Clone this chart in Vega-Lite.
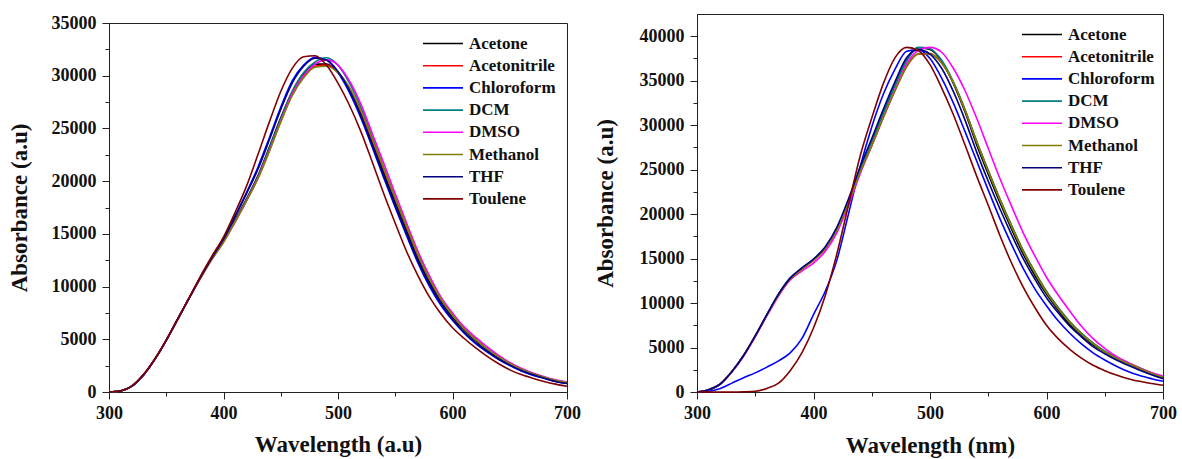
{
  "$schema": "https://vega.github.io/schema/vega-lite/v6.json",
  "background": "white",
  "padding": {"left": 7, "top": 13, "right": 5, "bottom": 5},
  "config": {
    "view": {"stroke": "#222", "strokeWidth": 1},
    "font": "Liberation Serif",
    "axis": {"labelFont": "Liberation Serif", "labelFontWeight": "bold", "labelFontSize": 18, "labelColor": "#111", "titleFont": "Liberation Serif", "titleFontWeight": "bold", "titleFontSize": 23, "titleColor": "#111", "domainColor": "#222", "tickColor": "#222", "grid": false, "labelFlush": false, "labelOverlap": false},
    "line": {"strokeWidth": 1.6, "interpolate": "monotone"}
  },
  "resolve": {"legend": {"color": "independent"}},
  "spacing": 12,
  "datasets": {
    "L": [
      {"w":300,"Acetone":0,"Acetonitrile":0,"Chloroform":0,"DCM":0,"DMSO":0,"Methanol":0,"THF":0,"Toulene":0},
      {"w":310,"Acetone":100,"Acetonitrile":100,"Chloroform":100,"DCM":100,"DMSO":100,"Methanol":100,"THF":100,"Toulene":100},
      {"w":320,"Acetone":550,"Acetonitrile":550,"Chloroform":550,"DCM":550,"DMSO":550,"Methanol":550,"THF":550,"Toulene":580},
      {"w":330,"Acetone":1600,"Acetonitrile":1600,"Chloroform":1600,"DCM":1600,"DMSO":1600,"Methanol":1600,"THF":1600,"Toulene":1650},
      {"w":340,"Acetone":3100,"Acetonitrile":3100,"Chloroform":3100,"DCM":3100,"DMSO":3100,"Methanol":3100,"THF":3100,"Toulene":3150},
      {"w":350,"Acetone":4900,"Acetonitrile":4900,"Chloroform":4900,"DCM":4900,"DMSO":4900,"Methanol":4900,"THF":4900,"Toulene":4950},
      {"w":360,"Acetone":6900,"Acetonitrile":6900,"Chloroform":6900,"DCM":6900,"DMSO":6900,"Methanol":6900,"THF":6900,"Toulene":6950},
      {"w":370,"Acetone":8900,"Acetonitrile":8900,"Chloroform":8900,"DCM":8900,"DMSO":8900,"Methanol":8900,"THF":8900,"Toulene":8950},
      {"w":380,"Acetone":10900,"Acetonitrile":10850,"Chloroform":10950,"DCM":10900,"DMSO":10800,"Methanol":10800,"THF":10900,"Toulene":11000},
      {"w":390,"Acetone":12700,"Acetonitrile":12650,"Chloroform":12800,"DCM":12700,"DMSO":12600,"Methanol":12600,"THF":12750,"Toulene":12900},
      {"w":400,"Acetone":14400,"Acetonitrile":14300,"Chloroform":14600,"DCM":14400,"DMSO":14200,"Methanol":14200,"THF":14500,"Toulene":14700},
      {"w":410,"Acetone":16300,"Acetonitrile":16200,"Chloroform":16700,"DCM":16200,"DMSO":16100,"Methanol":16100,"THF":16600,"Toulene":17000},
      {"w":420,"Acetone":18300,"Acetonitrile":18200,"Chloroform":18900,"DCM":18200,"DMSO":18100,"Methanol":18100,"THF":18800,"Toulene":19500},
      {"w":430,"Acetone":20500,"Acetonitrile":20300,"Chloroform":21300,"DCM":20400,"DMSO":20300,"Methanol":20200,"THF":21100,"Toulene":22500},
      {"w":440,"Acetone":23200,"Acetonitrile":22900,"Chloroform":24100,"DCM":23100,"DMSO":22900,"Methanol":22800,"THF":23900,"Toulene":25600},
      {"w":450,"Acetone":26000,"Acetonitrile":25700,"Chloroform":27000,"DCM":25900,"DMSO":25700,"Methanol":25600,"THF":26800,"Toulene":28500},
      {"w":460,"Acetone":28500,"Acetonitrile":28200,"Chloroform":29500,"DCM":28500,"DMSO":28300,"Methanol":28100,"THF":29300,"Toulene":30700},
      {"w":470,"Acetone":30200,"Acetonitrile":29900,"Chloroform":31000,"DCM":30300,"DMSO":30000,"Methanol":29800,"THF":30900,"Toulene":31800},
      {"w":480,"Acetone":31100,"Acetonitrile":30900,"Chloroform":31750,"DCM":31300,"DMSO":31100,"Methanol":30800,"THF":31650,"Toulene":31900},
      {"w":490,"Acetone":31100,"Acetonitrile":31000,"Chloroform":31500,"DCM":31700,"DMSO":31500,"Methanol":30900,"THF":31500,"Toulene":31000},
      {"w":500,"Acetone":30300,"Acetonitrile":30300,"Chloroform":30300,"DCM":31000,"DMSO":31000,"Methanol":30300,"THF":30400,"Toulene":29300},
      {"w":510,"Acetone":28700,"Acetonitrile":28800,"Chloroform":28400,"DCM":29300,"DMSO":29500,"Methanol":28900,"THF":28600,"Toulene":27200},
      {"w":520,"Acetone":26400,"Acetonitrile":26600,"Chloroform":26000,"DCM":27000,"DMSO":27300,"Methanol":26700,"THF":26200,"Toulene":24700},
      {"w":530,"Acetone":23600,"Acetonitrile":23900,"Chloroform":23200,"DCM":24200,"DMSO":24500,"Methanol":24000,"THF":23400,"Toulene":21800},
      {"w":540,"Acetone":20800,"Acetonitrile":21100,"Chloroform":20300,"DCM":21300,"DMSO":21700,"Methanol":21200,"THF":20500,"Toulene":18800},
      {"w":550,"Acetone":18000,"Acetonitrile":18300,"Chloroform":17500,"DCM":18400,"DMSO":18800,"Methanol":18400,"THF":17700,"Toulene":16000},
      {"w":560,"Acetone":15300,"Acetonitrile":15600,"Chloroform":14800,"DCM":15700,"DMSO":16000,"Methanol":15700,"THF":15000,"Toulene":13300},
      {"w":570,"Acetone":12600,"Acetonitrile":12900,"Chloroform":12200,"DCM":13000,"DMSO":13300,"Methanol":13000,"THF":12400,"Toulene":11000},
      {"w":580,"Acetone":10400,"Acetonitrile":10700,"Chloroform":10000,"DCM":10700,"DMSO":11000,"Methanol":10700,"THF":10200,"Toulene":9000},
      {"w":590,"Acetone":8600,"Acetonitrile":8800,"Chloroform":8200,"DCM":8800,"DMSO":9000,"Methanol":8800,"THF":8400,"Toulene":7400},
      {"w":600,"Acetone":7100,"Acetonitrile":7300,"Chloroform":6800,"DCM":7300,"DMSO":7500,"Methanol":7300,"THF":6900,"Toulene":6100},
      {"w":610,"Acetone":5900,"Acetonitrile":6000,"Chloroform":5600,"DCM":6000,"DMSO":6200,"Methanol":6000,"THF":5700,"Toulene":5100},
      {"w":620,"Acetone":4900,"Acetonitrile":5000,"Chloroform":4600,"DCM":5000,"DMSO":5200,"Methanol":5000,"THF":4700,"Toulene":4200},
      {"w":630,"Acetone":4000,"Acetonitrile":4100,"Chloroform":3800,"DCM":4100,"DMSO":4300,"Methanol":4100,"THF":3900,"Toulene":3400},
      {"w":640,"Acetone":3250,"Acetonitrile":3350,"Chloroform":3100,"DCM":3350,"DMSO":3500,"Methanol":3350,"THF":3150,"Toulene":2700},
      {"w":650,"Acetone":2600,"Acetonitrile":2700,"Chloroform":2500,"DCM":2700,"DMSO":2800,"Methanol":2700,"THF":2550,"Toulene":2100},
      {"w":660,"Acetone":2100,"Acetonitrile":2150,"Chloroform":2000,"DCM":2150,"DMSO":2250,"Methanol":2150,"THF":2050,"Toulene":1650},
      {"w":670,"Acetone":1700,"Acetonitrile":1750,"Chloroform":1600,"DCM":1750,"DMSO":1800,"Methanol":1750,"THF":1650,"Toulene":1300},
      {"w":680,"Acetone":1350,"Acetonitrile":1400,"Chloroform":1300,"DCM":1400,"DMSO":1450,"Methanol":1400,"THF":1300,"Toulene":1000},
      {"w":690,"Acetone":1050,"Acetonitrile":1100,"Chloroform":1000,"DCM":1100,"DMSO":1150,"Methanol":1100,"THF":1000,"Toulene":750},
      {"w":700,"Acetone":850,"Acetonitrile":900,"Chloroform":800,"DCM":900,"DMSO":950,"Methanol":900,"THF":800,"Toulene":550}
    ],
    "R": [
      {"w":300,"Acetone":0,"Acetonitrile":0,"Chloroform":0,"DCM":0,"DMSO":0,"Methanol":0,"THF":0,"Toulene":0},
      {"w":310,"Acetone":250,"Acetonitrile":250,"Chloroform":80,"DCM":250,"DMSO":250,"Methanol":250,"THF":250,"Toulene":0},
      {"w":320,"Acetone":900,"Acetonitrile":900,"Chloroform":400,"DCM":900,"DMSO":900,"Methanol":900,"THF":900,"Toulene":0},
      {"w":330,"Acetone":2300,"Acetonitrile":2300,"Chloroform":1000,"DCM":2300,"DMSO":2250,"Methanol":2300,"THF":2300,"Toulene":0},
      {"w":340,"Acetone":4100,"Acetonitrile":4100,"Chloroform":1600,"DCM":4100,"DMSO":4000,"Methanol":4100,"THF":4100,"Toulene":20},
      {"w":350,"Acetone":6300,"Acetonitrile":6300,"Chloroform":2150,"DCM":6300,"DMSO":6200,"Methanol":6300,"THF":6300,"Toulene":80},
      {"w":360,"Acetone":8700,"Acetonitrile":8650,"Chloroform":2800,"DCM":8700,"DMSO":8550,"Methanol":8650,"THF":8700,"Toulene":400},
      {"w":370,"Acetone":11000,"Acetonitrile":10900,"Chloroform":3500,"DCM":11000,"DMSO":10800,"Methanol":10900,"THF":11000,"Toulene":1000},
      {"w":380,"Acetone":12800,"Acetonitrile":12700,"Chloroform":4400,"DCM":12800,"DMSO":12600,"Methanol":12700,"THF":12800,"Toulene":2400},
      {"w":390,"Acetone":13900,"Acetonitrile":13800,"Chloroform":6000,"DCM":13900,"DMSO":13600,"Methanol":13800,"THF":13950,"Toulene":4400},
      {"w":400,"Acetone":14900,"Acetonitrile":14800,"Chloroform":8700,"DCM":14900,"DMSO":14500,"Methanol":14800,"THF":14950,"Toulene":7200},
      {"w":410,"Acetone":16200,"Acetonitrile":16100,"Chloroform":11300,"DCM":16200,"DMSO":15800,"Methanol":16100,"THF":16300,"Toulene":10800},
      {"w":420,"Acetone":18300,"Acetonitrile":18200,"Chloroform":14800,"DCM":18300,"DMSO":17900,"Methanol":18200,"THF":18500,"Toulene":15500},
      {"w":430,"Acetone":21500,"Acetonitrile":21300,"Chloroform":20000,"DCM":21500,"DMSO":21000,"Methanol":21300,"THF":21700,"Toulene":21000},
      {"w":440,"Acetone":25000,"Acetonitrile":24700,"Chloroform":25300,"DCM":25000,"DMSO":24500,"Methanol":24700,"THF":25300,"Toulene":26500},
      {"w":450,"Acetone":28200,"Acetonitrile":27700,"Chloroform":29800,"DCM":28200,"DMSO":27700,"Methanol":27700,"THF":28500,"Toulene":30800},
      {"w":460,"Acetone":31400,"Acetonitrile":30900,"Chloroform":33500,"DCM":31400,"DMSO":30900,"Methanol":30900,"THF":31800,"Toulene":34700},
      {"w":470,"Acetone":34500,"Acetonitrile":33900,"Chloroform":36300,"DCM":34500,"DMSO":34000,"Methanol":33900,"THF":34900,"Toulene":37600},
      {"w":480,"Acetone":37300,"Acetonitrile":36600,"Chloroform":38300,"DCM":37300,"DMSO":36900,"Methanol":36600,"THF":37600,"Toulene":38750},
      {"w":490,"Acetone":38700,"Acetonitrile":38000,"Chloroform":38500,"DCM":38750,"DMSO":38400,"Methanol":38000,"THF":38500,"Toulene":38400},
      {"w":500,"Acetone":38500,"Acetonitrile":38050,"Chloroform":37500,"DCM":38600,"DMSO":38750,"Methanol":38000,"THF":38000,"Toulene":36800},
      {"w":510,"Acetone":37200,"Acetonitrile":37000,"Chloroform":35300,"DCM":37300,"DMSO":38200,"Methanol":37000,"THF":36400,"Toulene":34200},
      {"w":520,"Acetone":34700,"Acetonitrile":34800,"Chloroform":32500,"DCM":34900,"DMSO":36400,"Methanol":34800,"THF":33800,"Toulene":31200},
      {"w":530,"Acetone":31500,"Acetonitrile":31700,"Chloroform":29300,"DCM":31800,"DMSO":33900,"Methanol":31700,"THF":30600,"Toulene":27800},
      {"w":540,"Acetone":27800,"Acetonitrile":28200,"Chloroform":26000,"DCM":28200,"DMSO":30800,"Methanol":28100,"THF":27000,"Toulene":24300},
      {"w":550,"Acetone":24500,"Acetonitrile":24900,"Chloroform":22700,"DCM":24900,"DMSO":27400,"Methanol":24800,"THF":23700,"Toulene":21000},
      {"w":560,"Acetone":21300,"Acetonitrile":21700,"Chloroform":19500,"DCM":21700,"DMSO":24000,"Methanol":21600,"THF":20600,"Toulene":17600},
      {"w":570,"Acetone":18300,"Acetonitrile":18700,"Chloroform":16600,"DCM":18700,"DMSO":20900,"Methanol":18600,"THF":17700,"Toulene":14500},
      {"w":580,"Acetone":15500,"Acetonitrile":15900,"Chloroform":13900,"DCM":15900,"DMSO":17900,"Methanol":15800,"THF":15000,"Toulene":11800},
      {"w":590,"Acetone":13100,"Acetonitrile":13500,"Chloroform":11600,"DCM":13500,"DMSO":15300,"Methanol":13400,"THF":12700,"Toulene":9500},
      {"w":600,"Acetone":11000,"Acetonitrile":11300,"Chloroform":9700,"DCM":11300,"DMSO":12900,"Methanol":11200,"THF":10600,"Toulene":7500},
      {"w":610,"Acetone":9200,"Acetonitrile":9500,"Chloroform":8000,"DCM":9500,"DMSO":10900,"Methanol":9400,"THF":8900,"Toulene":6000},
      {"w":620,"Acetone":7600,"Acetonitrile":7900,"Chloroform":6600,"DCM":7900,"DMSO":9100,"Methanol":7800,"THF":7400,"Toulene":4800},
      {"w":630,"Acetone":6400,"Acetonitrile":6600,"Chloroform":5400,"DCM":6600,"DMSO":7400,"Methanol":6500,"THF":6200,"Toulene":3800},
      {"w":640,"Acetone":5300,"Acetonitrile":5500,"Chloroform":4400,"DCM":5500,"DMSO":6000,"Methanol":5400,"THF":5100,"Toulene":3000},
      {"w":650,"Acetone":4500,"Acetonitrile":4600,"Chloroform":3600,"DCM":4600,"DMSO":4900,"Methanol":4500,"THF":4300,"Toulene":2400},
      {"w":660,"Acetone":3800,"Acetonitrile":3900,"Chloroform":2900,"DCM":3900,"DMSO":4000,"Methanol":3800,"THF":3600,"Toulene":1900},
      {"w":670,"Acetone":3200,"Acetonitrile":3300,"Chloroform":2300,"DCM":3300,"DMSO":3300,"Methanol":3200,"THF":3000,"Toulene":1500},
      {"w":680,"Acetone":2600,"Acetonitrile":2700,"Chloroform":1850,"DCM":2700,"DMSO":2700,"Methanol":2650,"THF":2450,"Toulene":1200},
      {"w":690,"Acetone":2050,"Acetonitrile":2150,"Chloroform":1500,"DCM":2150,"DMSO":2200,"Methanol":2100,"THF":1950,"Toulene":950},
      {"w":700,"Acetone":1600,"Acetonitrile":1700,"Chloroform":1200,"DCM":1700,"DMSO":1800,"Methanol":1650,"THF":1500,"Toulene":750}
    ]
  },
  "hconcat": [
    {
      "spacing": -2,
      "vconcat": [
        {
          "width": 458,
          "height": 1,
          "view": {"stroke": null, "fill": null},
          "data": {"values": [{"a": 1}]},
          "mark": {"type": "point", "size": 0, "opacity": 0},
          "encoding": {}
        },
        {
          "width": 458,
          "height": 369,
          "data": {"name": "L"},
          "transform": [{"fold": ["Acetone","Acetonitrile","Chloroform","DCM","DMSO","Methanol","THF","Toulene"], "as": ["Solvent","Abs"]}],
          "mark": {"type": "line"},
          "encoding": {
            "x": {"field": "w", "type": "quantitative", "scale": {"domain": [300,700], "nice": false},
              "axis": {"title": "Wavelength (a.u)", "values": [300,350,400,450,500,550,600,650,700], "labelExpr": "datum.value % 100 === 0 ? datum.label : ''", "tickSize": {"condition": {"test": "datum.value % 100 === 0", "value": 7}, "value": 4}, "labelPadding": 5, "titlePadding": 11}},
            "y": {"field": "Abs", "type": "quantitative", "scale": {"domain": [0,35000], "nice": false},
              "axis": {"title": "Absorbance (a.u)", "format": "d", "values": [0,2500,5000,7500,10000,12500,15000,17500,20000,22500,25000,27500,30000,32500,35000], "labelExpr": "datum.value % 5000 === 0 ? datum.label : ''", "tickSize": {"condition": {"test": "datum.value % 5000 === 0", "value": 7}, "value": 4}, "labelPadding": 6, "titlePadding": 20}},
            "color": {"field": "Solvent", "type": "nominal",
              "scale": {"domain": ["Acetone","Acetonitrile","Chloroform","DCM","DMSO","Methanol","THF","Toulene"], "range": ["#000000","#ff0000","#0000ff","#008080","#ff00ff","#808000","#000080","#800000"]},
              "legend": {"orient": "none", "legendX": 313, "legendY": 21, "title": null, "symbolType": "stroke", "symbolSize": 1600, "symbolStrokeWidth": 2, "clipHeight": 17, "labelFontSize": 17, "labelFont": "Liberation Serif", "labelFontWeight": "bold", "labelColor": "#111", "labelOffset": 5, "rowPadding": 4.2, "padding": 0}}
          }
        }
      ]
    },
    {
      "width": 466,
      "height": 378,
      "data": {"name": "R"},
      "transform": [{"fold": ["Acetone","Acetonitrile","Chloroform","DCM","DMSO","Methanol","THF","Toulene"], "as": ["Solvent","Abs"]}],
      "mark": {"type": "line"},
      "encoding": {
        "x": {"field": "w", "type": "quantitative", "scale": {"domain": [300,700], "nice": false},
          "axis": {"title": "Wavelength (nm)", "values": [300,350,400,450,500,550,600,650,700], "labelExpr": "datum.value % 100 === 0 ? datum.label : ''", "tickSize": {"condition": {"test": "datum.value % 100 === 0", "value": 7}, "value": 4}, "labelPadding": 5, "titlePadding": 12}},
        "y": {"field": "Abs", "type": "quantitative", "scale": {"domain": [0,42500], "nice": false},
          "axis": {"title": "Absorbance (a.u)", "format": "d", "values": [0,2500,5000,7500,10000,12500,15000,17500,20000,22500,25000,27500,30000,32500,35000,37500,40000], "labelExpr": "datum.value % 5000 === 0 ? datum.label : ''", "tickSize": {"condition": {"test": "datum.value % 5000 === 0", "value": 7}, "value": 4}, "labelPadding": 6, "titlePadding": 22}},
        "color": {"field": "Solvent", "type": "nominal",
          "scale": {"domain": ["Acetone","Acetonitrile","Chloroform","DCM","DMSO","Methanol","THF","Toulene"], "range": ["#000000","#ff0000","#0000ff","#008080","#ff00ff","#808000","#000080","#800000"]},
          "legend": {"orient": "none", "legendX": 324, "legendY": 12, "title": null, "symbolType": "stroke", "symbolSize": 1600, "symbolStrokeWidth": 2, "clipHeight": 17, "labelFontSize": 17, "labelFont": "Liberation Serif", "labelFontWeight": "bold", "labelColor": "#111", "labelOffset": 5, "rowPadding": 4.2, "padding": 0}}
      }
    }
  ]
}
